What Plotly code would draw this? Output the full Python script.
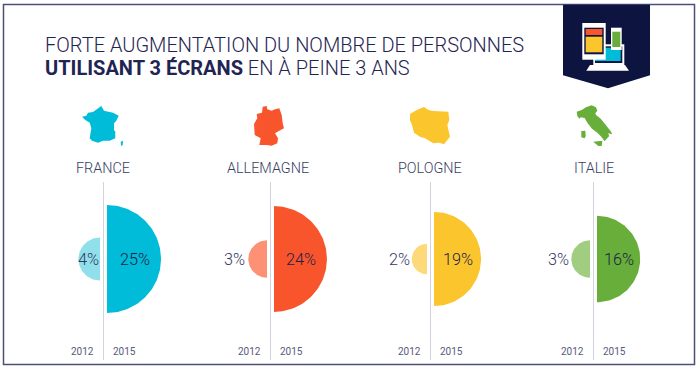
import numpy as np
import plotly.graph_objects as go

# ---- data ----
countries = ["FRANCE", "ALLEMAGNE", "POLOGNE", "ITALIE"]
share_2012 = [4, 3, 2, 3]
share_2015 = [25, 24, 19, 16]
years = ["2012", "2015"]
colors_2015 = ["#00bcd8", "#f9552d", "#fbc52d", "#68ae3a"]
colors_2012 = ["#90e0ec", "#fd9176", "#fdd97a", "#a0cd80"]

# ---- layout ----
W, H = 700, 368
axis_x = [103.5, 270.5, 430.5, 593.5]
label_2012_dx = [-15.5, -36.5, -31.5, -35]
name_x = [102.7, 268, 430, 594]
CY = 259
GAP = 3.5
R_SCALE = 10.8
NAVY = "#0d1440"
TEXT = "#1f2552"

fig = go.Figure()

def half_disc(cx, value, side, color):
    r = R_SCALE * np.sqrt(value)
    t = np.linspace(-np.pi / 2, np.pi / 2, 80)
    xs = cx + side * GAP + side * r * np.cos(t)
    ys = CY + r * np.sin(t)
    fig.add_trace(go.Scatter(
        x=np.append(xs, xs[0]), y=np.append(ys, ys[0]), mode="lines",
        line=dict(width=0, color=color), fill="toself", fillcolor=color,
        hoverinfo="skip", showlegend=False))
    return r

def note(x, y, text, size, color=TEXT, weight=300, xanchor="center", family="Roboto"):
    fig.add_annotation(x=x, y=y, xref="x", yref="y", text=text, showarrow=False,
                       xanchor=xanchor, yanchor="middle", align="left",
                       font=dict(family=family, size=size, color=color, weight=weight))

for i, c in enumerate(countries):
    cx = axis_x[i]
    half_disc(cx, share_2012[i], -1, colors_2012[i])
    r15 = half_disc(cx, share_2015[i], 1, colors_2015[i])
    fig.add_shape(type="line", x0=cx, x1=cx, y0=182, y1=360,
                  line=dict(color="#d2d3df", width=1))
    note(name_x[i], 168.7, c, 14.4, "#3a3e62")
    note(cx + GAP + r15 / 2 + 0.5, CY, f"{share_2015[i]}%", 16.3, "#1c2148")
    note(cx + label_2012_dx[i], CY, f"{share_2012[i]}%", 16.3, "#33385f")
    note(cx - 21, 351, years[0], 10, "#565a7c", 400)
    note(cx + 20.5, 351, years[1], 10, "#565a7c", 400)

note(42.5, 44.5, "FORTE AUGMENTATION DU NOMBRE DE PERSONNES", 20, TEXT, 300, "left")
note(42.5, 68, "<b>UTILISANT 3 ÉCRANS</b> EN À PEINE 3 ANS", 20, TEXT, 300, "left")

# ---- decoration: frame, badge and silhouettes ----
def poly(points, ox, oy, color, scale=3.0):
    d = "M" + " L".join(f"{ox + a / scale:.1f},{oy + b / scale:.1f}" for a, b in points) + " Z"
    fig.add_shape(type="path", path=d, fillcolor=color, line=dict(width=0), layer="above")

def rect(x0, y0, x1, y1, color):
    # corners given as zoomed icon coordinates
    poly([(x0, y0), (x1, y0), (x1, y1), (x0, y1)], 575, 15, color)

france = [(12,50),(25,47),(30,38),(45,36),(70,18),(78,32),(105,38),(122,47),(115,62),(108,70),(108,90),(112,95),
          (112,115),(95,122),(75,122),(60,128),(42,122),(35,115),(40,85),(35,68),(22,60)]
corsica = [(128,125),(135,122),(134,135),(129,138)]
germany = [(38,20),(50,18),(52,28),(65,32),(75,28),(88,25),(95,45),(98,70),(102,85),(88,92),(75,100),(84,115),
           (82,130),(65,137),(50,135),(28,135),(32,115),(14,105),(12,72),(22,55),(20,42),(36,38)]
poland = [(30,42),(50,30),(72,21),(85,30),(100,33),(145,35),(148,60),(142,75),(150,110),(132,133),(118,128),
          (100,130),(75,115),(60,110),(42,98),(36,75),(30,60)]
italy = [(20,35),(35,30),(48,22),(65,16),(78,22),(82,32),(76,40),(78,45),(92,56),(108,76),(124,96),(126,103),
         (114,100),(118,108),(110,116),(104,124),(94,110),(82,98),(66,86),(52,68),(44,54),(32,52),(28,56),(22,48)]
sardinia = [(34,93),(46,92),(47,108),(44,115),(34,112)]
sicily = [(70,125),(97,122),(95,138),(85,138)]
poly(france, 78, 100, colors_2015[0])
poly(corsica, 78, 100, colors_2015[0])
poly(germany, 250, 100, colors_2015[1])
poly(poland, 400, 100, colors_2015[2])
poly(italy, 570, 100, colors_2015[3])
poly(sardinia, 570, 100, colors_2015[3])
poly(sicily, 570, 100, colors_2015[3])

# badge
poly([(69,14),(330,14),(330,226),(204,265),(69,226)], 540, 0, NAVY)
# laptop
rect(55,88,148,150,"#ffffff")
rect(60,94,142,144,NAVY)
rect(60,98,137,138,colors_2015[0])
poly([(45,150),(150,150),(162,167),(34,167)], 575, 15, "#ffffff")
# tablet
rect(22,24,92,134,"#ffffff")
rect(28,38,86,118,NAVY)
rect(32,42,82,60,colors_2015[1])
rect(32,65,82,112,colors_2015[2])
# phone
rect(108,38,140,105,"#ffffff")
rect(112,50,136,96,colors_2015[3])

fig.add_shape(type="rect", x0=3.5, y0=4.5, x1=694.5, y1=364.5,
              line=dict(color="#4b4f7a", width=1.5), layer="below")

fig.update_xaxes(range=[0, W], visible=False, fixedrange=True)
fig.update_yaxes(range=[H, 0], visible=False, fixedrange=True)
fig.update_layout(width=W, height=H, margin=dict(l=0, r=0, t=0, b=0),
                  paper_bgcolor="white", plot_bgcolor="white", showlegend=False)
fig.write_html("out.html", config=dict(displayModeBar=False),
               post_script="document.body.style.margin='0';document.documentElement.style.overflow='hidden';")
